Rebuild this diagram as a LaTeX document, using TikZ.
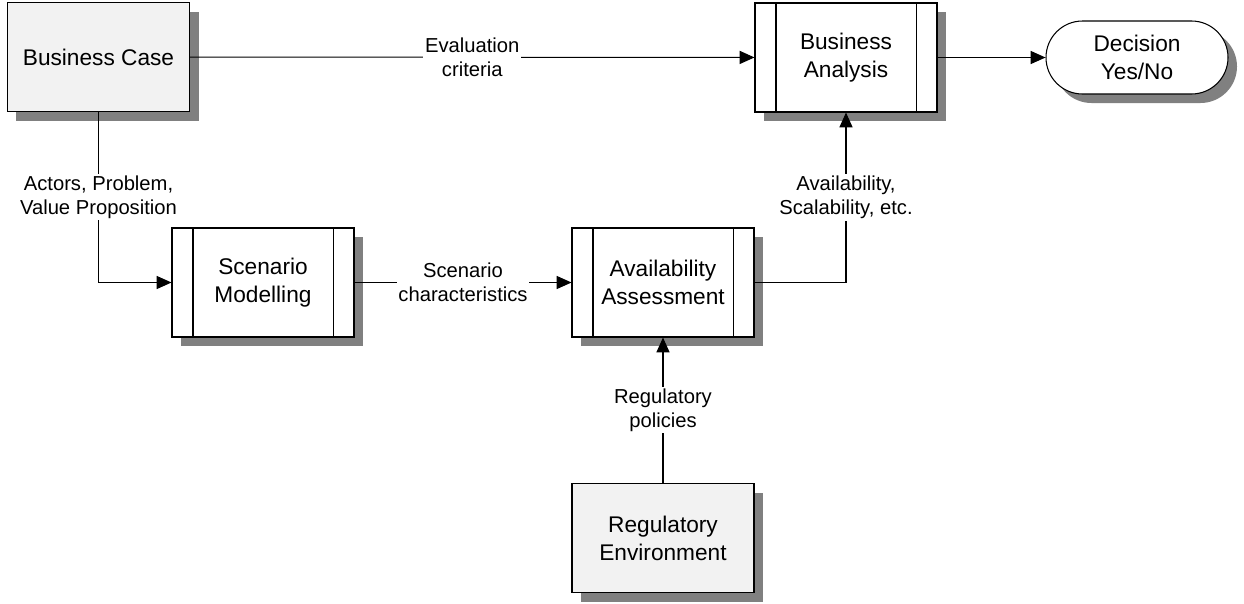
\documentclass[tikz,border=0pt]{standalone}
\usepackage{fontspec}
\setmainfont{Liberation Sans}
\usetikzlibrary{arrows.meta,shadows}
\definecolor{boxfill}{HTML}{F2F2F2}

\begin{document}
\begin{tikzpicture}[
    >={Triangle[length=8.5pt,width=7.5pt]},
    block/.style ={draw, line width=0.6pt, minimum width=3.64cm, minimum height=2.18cm,
      align=center, font=\fontsize{12.9}{15.9}\selectfont,
      drop shadow={shadow xshift=0.18cm, shadow yshift=-0.18cm, fill=gray, opacity=1}},
    source/.style ={block, fill=boxfill},
    process/.style ={block, fill=white,
      append after command={
        ([xshift=0.43cm]\tikzlastnode.north west) edge[-, line width=0.6pt] ([xshift=0.43cm]\tikzlastnode.south west)
        ([xshift=-0.43cm]\tikzlastnode.north east) edge[-, line width=0.6pt] ([xshift=-0.43cm]\tikzlastnode.south east)}},
    decision/.style ={block, fill=white, minimum height=1.46cm, rounded corners=0.73cm},
    flow/.style ={->, line width=0.6pt},
    flowlabel/.style ={fill=white, inner sep=1pt, anchor=center, align=center, font=\fontsize{11.5}{13.7}\selectfont}]
   \useasboundingbox (0,0) rectangle (24.88,-12.06);

   \node[source] (bc) at (1.97,-1.14) {Business Case};
   \node[process] (ba) at (16.92,-1.15) {Business\\Analysis};
   \node[decision] (dec) at (22.74,-1.15) {Decision\\Yes/No};
   \node[process] (sm) at (5.26,-5.65) {Scenario\\Modelling};
   \node[process] (aa) at (13.26,-5.65) {Availability\\Assessment};
   \node[source] (re) at (13.26,-10.76) {Regulatory\\Environment};

   \draw[flow] (bc) -- node[flowlabel] {Evaluation\\criteria} (ba);
   \draw[flow] (ba) -- (dec);
   \draw[flow] (bc.south) |- node[flowlabel, pos=0.25] {Actors, Problem,\\Value Proposition} (sm.west);
   \draw[flow] (sm) -- node[flowlabel] {Scenario\\characteristics} (aa);
   \draw[flow] (re) -- node[flowlabel] {Regulatory\\policies} (aa);
   \draw[flow] (aa.east) -| node[flowlabel, pos=0.75] {Availability,\\Scalability, etc.} (ba.south);
 \end{tikzpicture}
\end{document}
